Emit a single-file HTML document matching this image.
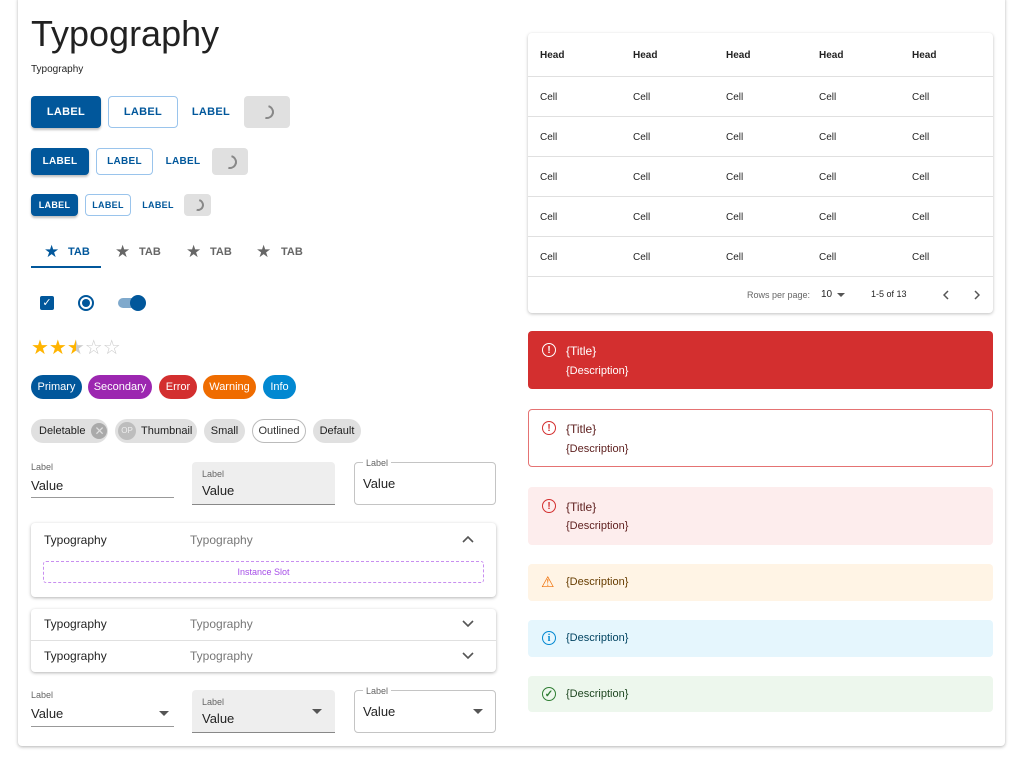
<!DOCTYPE html>
<html><head><style>
*{box-sizing:border-box;margin:0;padding:0}
body{width:1024px;height:760px;background:#fff;font-family:"Liberation Sans",sans-serif;position:relative;overflow:hidden;color:rgba(0,0,0,.87)}
.a{position:absolute}
.card{left:18px;top:-4px;width:987px;height:750px;border-radius:4px;box-shadow:0 1px 3px rgba(0,0,0,.3)}
.btn{position:absolute;display:flex;align-items:center;justify-content:center;font-weight:bold;letter-spacing:.3px;border-radius:4px;color:#01579b}
.ct{background:#01579b;color:#fff;box-shadow:0 2px 2px rgba(0,0,0,.25)}
.ol{border:1px solid #9ac4ec}
.ld{background:#e0e0e0}
.sp{width:14px;height:14px;border:2px solid #888;border-radius:50%;border-left-color:transparent;border-bottom-color:transparent;transform:rotate(60deg)}
.chip{position:absolute;height:24px;border-radius:12px;display:flex;align-items:center;justify-content:center;font-size:11px;color:#fff}
.g{background:#e0e0e0;color:rgba(0,0,0,.87)}
.lbl{font-size:9px;color:#666}
.val{font-size:13px}
.tx{font-size:12px}
.alert{position:absolute;left:528px;width:465px;border-radius:4px}
.ic{position:absolute;left:14px;width:14px;height:14px;border-radius:50%;border:1.6px solid;font-size:10px;font-weight:bold;display:flex;align-items:center;justify-content:center}
.at{position:absolute;left:38px;font-size:12px}
.ad{position:absolute;left:38px;font-size:11px}
td{font-size:10px;padding-left:12px;padding-top:3px;height:40px;border-bottom:1px solid #e0e0e0}
th{font-size:10px;text-align:left;padding-left:12px;padding-top:3px;height:43px;border-bottom:1px solid #e0e0e0}
</style></head><body>
<div class="a card"></div>
<div class="a" style="left:31px;top:13px;font-size:36px">Typography</div>
<div class="a" style="left:31px;top:64px;font-size:10px">Typography</div>

<div class="btn ct" style="left:31px;top:96px;width:70px;height:32px;font-size:11px">LABEL</div>
<div class="btn ol" style="left:108px;top:96px;width:70px;height:32px;font-size:11px">LABEL</div>
<div class="btn" style="left:186px;top:96px;width:50px;height:32px;font-size:11px">LABEL</div>
<div class="btn ld" style="left:244px;top:96px;width:46px;height:32px"><div class="sp"></div></div>

<div class="btn ct" style="left:31px;top:148px;width:58px;height:27px;font-size:10px">LABEL</div>
<div class="btn ol" style="left:96px;top:148px;width:57px;height:27px;font-size:10px">LABEL</div>
<div class="btn" style="left:162px;top:148px;width:42px;height:27px;font-size:10px">LABEL</div>
<div class="btn ld" style="left:212px;top:148px;width:36px;height:27px"><div class="sp"></div></div>

<div class="btn ct" style="left:31px;top:194px;width:47px;height:22px;font-size:9px">LABEL</div>
<div class="btn ol" style="left:85px;top:194px;width:46px;height:22px;font-size:9px">LABEL</div>
<div class="btn" style="left:140px;top:194px;width:36px;height:22px;font-size:9px">LABEL</div>
<div class="btn ld" style="left:184px;top:194px;width:27px;height:22px"><div class="sp" style="width:12px;height:12px"></div></div>

<div class="a" style="left:44px;top:242px;font-size:17px;color:#01579b">★</div><div class="a" style="left:68px;top:246px;font-size:11px;font-weight:bold;color:#01579b">TAB</div>
<div class="a" style="left:115px;top:242px;font-size:17px;color:#666">★</div><div class="a" style="left:139px;top:246px;font-size:11px;font-weight:bold;color:#666">TAB</div>
<div class="a" style="left:186px;top:242px;font-size:17px;color:#666">★</div><div class="a" style="left:210px;top:246px;font-size:11px;font-weight:bold;color:#666">TAB</div>
<div class="a" style="left:256px;top:242px;font-size:17px;color:#666">★</div><div class="a" style="left:281px;top:246px;font-size:11px;font-weight:bold;color:#666">TAB</div>
<div class="a" style="left:31px;top:266px;width:70px;height:2px;background:#01579b"></div>

<div class="a" style="left:40px;top:296px;width:14px;height:14px;background:#01579b;border-radius:2px;color:#fff;font-size:11px;text-align:center;line-height:14px">✓</div>
<div class="a" style="left:78px;top:295px;width:16px;height:16px;border:2px solid #01579b;border-radius:50%"><div style="margin:2px;width:8px;height:8px;border-radius:50%;background:#01579b"></div></div>
<div class="a" style="left:118px;top:298px;width:26px;height:10px;border-radius:5px;background:#7fa9cc"></div>
<div class="a" style="left:130px;top:295px;width:16px;height:16px;border-radius:50%;background:#01579b"></div>

<div class="a" style="left:31px;top:335px;font-size:20px;letter-spacing:0px;color:#ffb400">★★<span style="background:linear-gradient(90deg,#ffb400 50%,#ccc 50%);-webkit-background-clip:text;color:transparent">★</span><span style="color:#ccc">☆☆</span></div>

<div class="chip" style="left:31px;top:375px;width:51px;background:#01579b">Primary</div>
<div class="chip" style="left:88px;top:375px;width:64px;background:#9c27b0">Secondary</div>
<div class="chip" style="left:159px;top:375px;width:38px;background:#d32f2f">Error</div>
<div class="chip" style="left:203px;top:375px;width:53px;background:#ef6c00">Warning</div>
<div class="chip" style="left:263px;top:375px;width:33px;background:#0288d1">Info</div>

<div class="chip g" style="left:31px;top:419px;width:77px;justify-content:flex-start;padding-left:8px">Deletable<span style="margin-left:6px;width:16px;height:16px;border-radius:50%;background:#aaa;color:#e0e0e0;font-size:12px;text-align:center;line-height:16px">✕</span></div>
<div class="chip g" style="left:115px;top:419px;width:82px;justify-content:flex-start;padding-left:3px"><span style="width:18px;height:18px;border-radius:50%;background:#bdbdbd;color:#eee;font-size:8px;text-align:center;line-height:18px;margin-right:5px">OP</span>Thumbnail</div>
<div class="chip g" style="left:204px;top:419px;width:41px">Small</div>
<div class="chip" style="left:252px;top:419px;width:54px;border:1px solid #bbb;color:#333">Outlined</div>
<div class="chip g" style="left:313px;top:419px;width:48px">Default</div>

<div class="a lbl" style="left:31px;top:462px">Label</div>
<div class="a val" style="left:31px;top:478px">Value</div>
<div class="a" style="left:31px;top:497px;width:143px;height:1px;background:#999"></div>
<div class="a" style="left:192px;top:462px;width:143px;height:43px;background:#eee;border-bottom:1px solid #888;border-radius:4px 4px 0 0"></div>
<div class="a lbl" style="left:202px;top:469px">Label</div>
<div class="a val" style="left:202px;top:483px">Value</div>
<div class="a" style="left:354px;top:462px;width:142px;height:43px;border:1px solid #c4c4c4;border-radius:4px"></div>
<div class="a lbl" style="left:363px;top:458px;background:#fff;padding:0 3px">Label</div>
<div class="a val" style="left:363px;top:476px">Value</div>

<div class="a" style="left:31px;top:523px;width:465px;height:74px;box-shadow:0 1px 3px rgba(0,0,0,.3);border-radius:4px"></div>
<div class="a tx" style="left:44px;top:533px">Typography</div>
<div class="a tx" style="left:190px;top:533px;color:#777">Typography</div>
<svg class="a" style="left:462px;top:535px" width="12" height="8"><path d="M1 7L6 2L11 7" fill="none" stroke="#555" stroke-width="1.6"/></svg>
<div class="a" style="left:43px;top:561px;width:441px;height:22px;border:1px dashed #c88ef0;border-radius:3px;color:#a64ee8;font-size:9px;text-align:center;line-height:20px">Instance Slot</div>

<div class="a" style="left:31px;top:609px;width:465px;height:63px;box-shadow:0 1px 3px rgba(0,0,0,.3);border-radius:4px"></div>
<div class="a" style="left:31px;top:640px;width:465px;height:1px;background:#e0e0e0"></div>
<div class="a tx" style="left:44px;top:617px">Typography</div>
<div class="a tx" style="left:190px;top:617px;color:#777">Typography</div>
<div class="a tx" style="left:44px;top:649px">Typography</div>
<div class="a tx" style="left:190px;top:649px;color:#777">Typography</div>
<svg class="a" style="left:462px;top:620px" width="12" height="8"><path d="M1 1L6 6L11 1" fill="none" stroke="#555" stroke-width="1.6"/></svg>
<svg class="a" style="left:462px;top:652px" width="12" height="8"><path d="M1 1L6 6L11 1" fill="none" stroke="#555" stroke-width="1.6"/></svg>

<div class="a lbl" style="left:31px;top:690px">Label</div>
<div class="a val" style="left:31px;top:706px">Value</div>
<svg class="a" style="left:159px;top:711px" width="10" height="5"><path d="M0 0H10L5 5Z" fill="#555"/></svg>
<div class="a" style="left:31px;top:726px;width:143px;height:1px;background:#999"></div>
<div class="a" style="left:192px;top:690px;width:143px;height:43px;background:#eee;border-bottom:1px solid #888;border-radius:4px 4px 0 0"></div>
<div class="a lbl" style="left:202px;top:697px">Label</div>
<div class="a val" style="left:202px;top:711px">Value</div>
<svg class="a" style="left:312px;top:709px" width="10" height="5"><path d="M0 0H10L5 5Z" fill="#555"/></svg>
<div class="a" style="left:354px;top:690px;width:142px;height:43px;border:1px solid #c4c4c4;border-radius:4px"></div>
<div class="a lbl" style="left:363px;top:686px;background:#fff;padding:0 3px">Label</div>
<div class="a val" style="left:363px;top:704px">Value</div>
<svg class="a" style="left:473px;top:709px" width="10" height="5"><path d="M0 0H10L5 5Z" fill="#555"/></svg>

<div class="a" style="left:528px;top:33px;width:465px;height:280px;box-shadow:0 1px 3px rgba(0,0,0,.25);border-radius:4px">
<table style="border-collapse:collapse;width:100%;table-layout:fixed">
<tr><th>Head</th><th>Head</th><th>Head</th><th>Head</th><th>Head</th></tr>
<tr><td>Cell</td><td>Cell</td><td>Cell</td><td>Cell</td><td>Cell</td></tr>
<tr><td>Cell</td><td>Cell</td><td>Cell</td><td>Cell</td><td>Cell</td></tr>
<tr><td>Cell</td><td>Cell</td><td>Cell</td><td>Cell</td><td>Cell</td></tr>
<tr><td>Cell</td><td>Cell</td><td>Cell</td><td>Cell</td><td>Cell</td></tr>
<tr><td>Cell</td><td>Cell</td><td>Cell</td><td>Cell</td><td>Cell</td></tr>
</table>
<div class="a" style="left:219px;top:257px;font-size:9px;color:#666">Rows per page:</div>
<div class="a" style="left:293px;top:256px;font-size:10px">10</div>
<svg class="a" style="left:309px;top:260px" width="8" height="4"><path d="M0 0H8L4 4Z" fill="#555"/></svg>
<div class="a" style="left:343px;top:256px;font-size:9px">1-5 of 13</div>
<svg class="a" style="left:415px;top:257px" width="6" height="10"><path d="M5 1L1 5L5 9" fill="none" stroke="#555" stroke-width="1.5"/></svg>
<svg class="a" style="left:446px;top:257px" width="6" height="10"><path d="M1 1L5 5L1 9" fill="none" stroke="#555" stroke-width="1.5"/></svg>
</div>

<div class="alert" style="top:331px;height:58px;background:#d32f2f;color:#fff">
<div class="ic" style="top:12px;border-color:#fff">!</div><div class="at" style="top:13px">{Title}</div><div class="ad" style="top:34px">{Description}</div></div>
<div class="alert" style="top:409px;height:58px;border:1px solid #e57373;color:#5f2120">
<div class="ic" style="top:11px;left:13px;border-color:#d32f2f;color:#d32f2f">!</div><div class="at" style="top:12px;left:37px">{Title}</div><div class="ad" style="top:33px;left:37px">{Description}</div></div>
<div class="alert" style="top:487px;height:58px;background:#fdeded;color:#5f2120">
<div class="ic" style="top:12px;border-color:#d32f2f;color:#d32f2f">!</div><div class="at" style="top:13px">{Title}</div><div class="ad" style="top:33px">{Description}</div></div>
<div class="alert" style="top:564px;height:37px;background:#fff4e5;color:#663c00">
<div class="a" style="left:13px;top:9px;font-size:15px;color:#ef6c00">⚠</div><div class="ad" style="top:12px">{Description}</div></div>
<div class="alert" style="top:620px;height:37px;background:#e5f6fd;color:#014361">
<div class="ic" style="top:11px;border-color:#0288d1;color:#0288d1;font-family:'Liberation Serif',serif">i</div><div class="ad" style="top:12px">{Description}</div></div>
<div class="alert" style="top:676px;height:36px;background:#edf7ed;color:#1e4620">
<div class="ic" style="top:11px;border-color:#2e7d32;color:#2e7d32">✓</div><div class="ad" style="top:12px">{Description}</div></div>
</body></html>
